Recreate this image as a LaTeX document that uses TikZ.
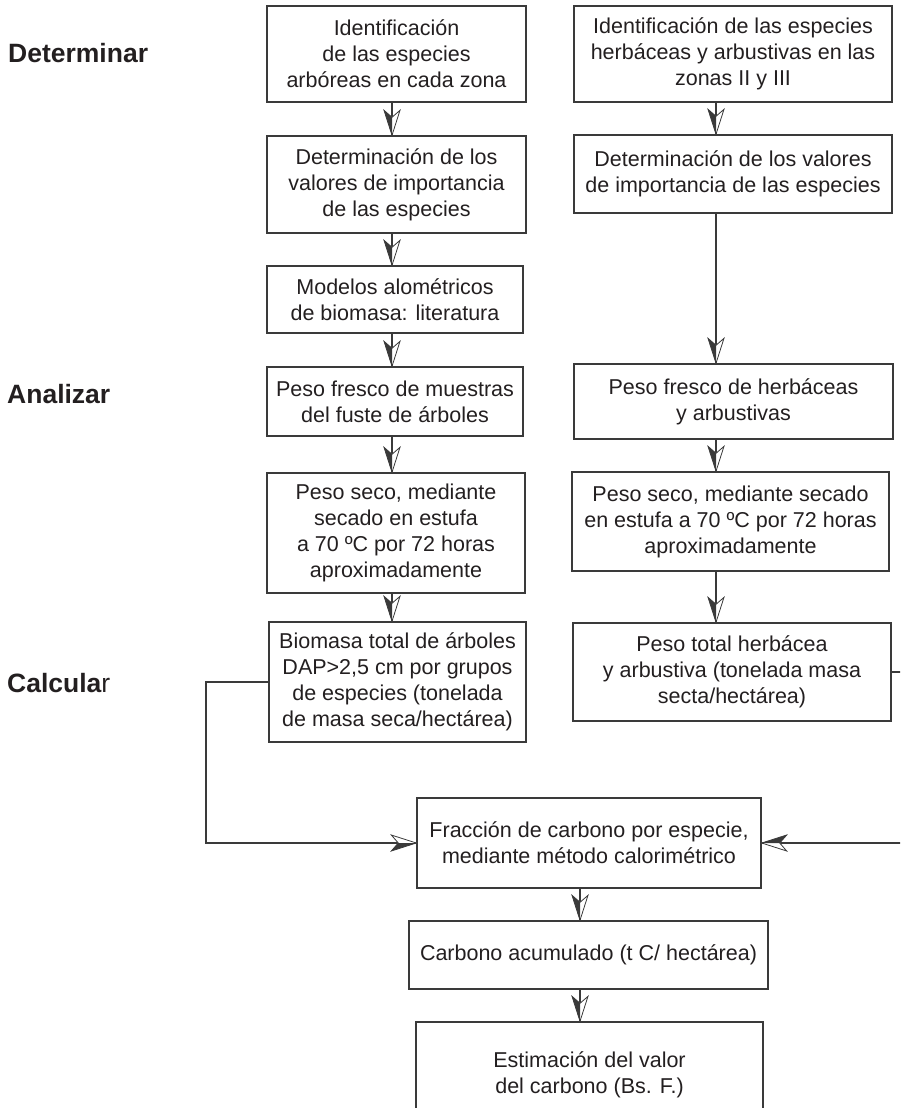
\documentclass[tikz,border=0pt]{standalone}
\usepackage{fontspec}
\setmainfont{Liberation Sans}
\usetikzlibrary{decorations.markings}
\definecolor{ink}{HTML}{231F20}
\definecolor{lin}{HTML}{3A3A3A}
\tikzset{
  box/.style={draw=lin, line width=1.4pt, inner sep=0pt, align=center, text=ink,
    font=\fontsize{21.5}{26}\selectfont},
  lab/.style={anchor=base west, inner sep=0pt, text=ink,
    font=\fontsize{26.5}{30}\selectfont\bfseries},
  conn/.style={draw=lin, line width=1.3pt, postaction={decorate},
    decoration={markings, mark=at position 1 with {
      \filldraw[fill=white, draw=lin, line width=0.8pt, line join=miter]
        (0pt,0pt) -- (-25pt,8pt) -- (-18pt,0pt) -- (-25pt,-8pt) -- cycle;
      \fill[lin] (0pt,0pt) -- (-18pt,0pt) -- (-25pt,-8pt) -- cycle;}}},
}
\newcommand\mybox[6]{%
  \node[box, minimum width={(#4-#2)*1pt}, minimum height={(#5-#3)*1pt}]
    (#1) at ({(#2+#4)/2},{(#3+#5)/2}) {#6};}
\begin{document}
\begin{tikzpicture}[x=1pt,y=-1pt]
\path[use as bounding box] (0,0) rectangle (900,1108);
\clip (0,0) rectangle (900,1108);
% left column
\mybox{L1}{267}{6}{526}{102}{Identificación\\de las especies\\arbóreas en cada zona}
\mybox{L2}{267}{136}{526}{233}{Determinación de los\\valores de importancia\\de las especies}
\mybox{L3}{267}{266}{523}{333}{Modelos alométricos\\de biomasa: literatura}
\mybox{L4}{267}{367}{523}{436}{Peso fresco de muestras\\del fuste de árboles}
\mybox{L5}{267}{473}{525}{593}{Peso seco, mediante\\secado en estufa\\a 70 ºC por 72 horas\\aproximadamente}
\mybox{L6}{269}{622}{526}{742}{Biomasa total de árboles\\DAP>2,5 cm por grupos\\de especies (tonelada\\de masa seca/hectárea)}
% right column
\mybox{R1}{574}{6}{892}{102}{Identificación de las especies\\herbáceas y arbustivas en las\\zonas II y III}
\mybox{R2}{574}{135}{892}{213}{Determinación de los valores\\de importancia de las especies}
\mybox{R3}{574}{364}{893}{439}{Peso fresco de herbáceas\\y arbustivas}
\mybox{R4}{572}{472}{889}{571}{Peso seco, mediante secado\\en estufa a 70 ºC por 72 horas\\aproximadamente}
\mybox{R5}{573}{623}{891}{721}{Peso total herbácea\\y arbustiva (tonelada masa\\secta/hectárea)}
% bottom
\mybox{B1}{417}{798}{761}{888}{Fracción de carbono por especie,\\mediante método calorimétrico}
\mybox{B2}{409}{921}{768}{989}{Carbono acumulado (t C/ hectárea)}
\mybox{B3}{416}{1022}{763}{1128}{Estimación del valor\\del carbono (Bs. F.)}
% labels
\node[lab] (det) at (8,63) {Determinar};
\node[lab] (ana) at (7,403) {Analizar};
\node[lab] (cal) at (7,692) {Calcula{\mdseries r}};
% helper coordinates
\coordinate (ax) at (392,0);
\coordinate (ra) at (716,0);
\coordinate (ba) at (580,0);
\coordinate (lc) at (206,0);
\coordinate (rc) at (915,0);
% connectors
\draw[conn] (L1.south -| ax) -- (L2.north -| ax);
\draw[conn] (L2.south -| ax) -- (L3.north -| ax);
\draw[conn] (L3.south -| ax) -- (L4.north -| ax);
\draw[conn] (L4.south -| ax) -- (L5.north -| ax);
\draw[conn] (L5.south -| ax) -- (L6.north -| ax);
\draw[conn] (R1.south -| ra) -- (R2.north -| ra);
\draw[conn] (R2.south -| ra) -- (R3.north -| ra);
\draw[conn] (R3.south -| ra) -- (R4.north -| ra);
\draw[conn] (R4.south -| ra) -- (R5.north -| ra);
\draw[conn] (L6.west) -- (L6.west -| lc) |- (B1.west);
\draw[conn] (R5.east) -- (R5.east -| rc) |- (B1.east);
\draw[conn] (B1.south -| ba) -- (B2.north -| ba);
\draw[conn] (B2.south -| ba) -- (B3.north -| ba);
\end{tikzpicture}
\end{document}
